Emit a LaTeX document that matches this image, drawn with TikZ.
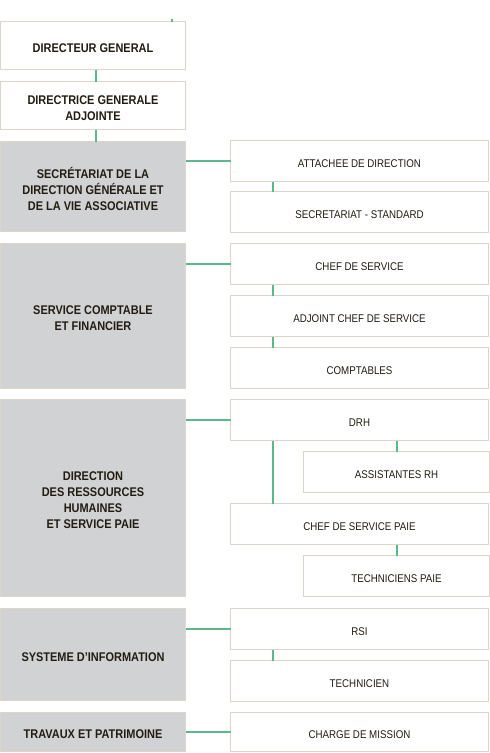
\documentclass[tikz,border=0pt]{standalone}
\usepackage{fontspec}
\setmainfont{Liberation Sans}[FakeStretch=0.87]
\definecolor{bordc}{HTML}{DDD6C8}
\definecolor{grayc}{HTML}{D1D2D4}
\definecolor{greenc}{HTML}{5AB88C}
\definecolor{txtc}{HTML}{231C12}
\tikzset{
  txlab/.style={inner sep=0pt, outer sep=0pt, align=center, text=txtc, yshift=-2.5pt},
  box/.style={draw=bordc, line width=1pt, inner sep=0pt, outer sep=0pt},
  topbox/.style={box, minimum width=185pt,
    label={[txlab, font=\bfseries\fontsize{12.6}{16}\selectfont]center:{#1}}},
  lbox/.style={topbox={#1}, fill=grayc},
  rbox/.style={box, minimum width=258pt, minimum height=41pt,
    label={[txlab, font=\fontsize{11.2}{16}\selectfont]center:{#1}}},
  sbox/.style={box, minimum width=186pt, minimum height=41pt,
    label={[txlab, font=\fontsize{11.2}{16}\selectfont]center:{#1}}},
  link/.style={draw=greenc, line width=2pt}
}
\begin{document}
\begin{tikzpicture}[x=1pt,y=-1pt]
\useasboundingbox[fill=white] (0,0) rectangle (490,753);
% left column
\node[topbox={DIRECTEUR GENERAL}, minimum height=48pt] (dg) at (93,45.5) {};
\node[topbox={DIRECTRICE GENERALE\\ADJOINTE}, minimum height=48pt] (dga) at (93,105.5) {};
\node[lbox={SECRÉTARIAT DE LA\\DIRECTION GÉNÉRALE ET\\DE LA VIE ASSOCIATIVE}, minimum height=90pt] (secr) at (93,186.5) {};
\node[lbox={SERVICE COMPTABLE\\ET FINANCIER}, minimum height=145pt] (compt) at (93,316) {};
\node[lbox={DIRECTION\\DES RESSOURCES\\HUMAINES\\ET SERVICE PAIE}, minimum height=197pt] (drhg) at (93,498) {};
\node[lbox={SYSTEME D’INFORMATION}, minimum height=92pt] (si) at (93,654.5) {};
\node[lbox={TRAVAUX ET PATRIMOINE}, minimum height=39pt] (trav) at (93,732) {};
% right column
\node[rbox={ATTACHEE DE DIRECTION}] (att) at (359.5,161) {};
\node[rbox={SECRETARIAT - STANDARD}] (std) at (359.5,212) {};
\node[rbox={CHEF DE SERVICE}] (chef) at (359.5,264) {};
\node[rbox={ADJOINT CHEF DE SERVICE}] (adj) at (359.5,316) {};
\node[rbox={COMPTABLES}] (cpt) at (359.5,368) {};
\node[rbox={DRH}] (drh) at (359.5,420) {};
\node[sbox={ASSISTANTES RH}] (ass) at (396.5,472) {};
\node[rbox={CHEF DE SERVICE PAIE}] (paie) at (359.5,524) {};
\node[sbox={TECHNICIENS PAIE}] (tech) at (396.5,576) {};
\node[rbox={RSI}] (rsi) at (359.5,629) {};
\node[rbox={TECHNICIEN}] (techn) at (359.5,681) {};
\node[rbox={CHARGE DE MISSION}, minimum height=39pt] (cdm) at (359.5,732) {};
% connectors
\coordinate (tick) at (172,18.5);
\draw[link] (tick) -- (tick |- dg.north);
\draw[link] ([xshift=3pt]dg.south) -- ([xshift=3pt]dga.north);
\draw[link] ([xshift=3pt]dga.south) -- ([xshift=3pt]secr.north);
\draw[link] (att.west -| secr.east) -- (att.west);
\draw[link] ([xshift=42pt]att.south west) -- ([xshift=42pt]std.north west);
\draw[link] (chef.west -| compt.east) -- (chef.west);
\draw[link] ([xshift=42pt]chef.south west) -- ([xshift=42pt]adj.north west);
\draw[link] ([xshift=42pt]adj.south west) -- ([xshift=42pt]cpt.north west);
\draw[link] (drh.west -| drhg.east) -- (drh.west);
\draw[link] ([xshift=42pt]drh.south west) -- ([xshift=42pt]paie.north west);
\draw[link] (ass.north |- drh.south) -- (ass.north);
\draw[link] (tech.north |- paie.south) -- (tech.north);
\draw[link] (rsi.west -| si.east) -- (rsi.west);
\draw[link] ([xshift=42pt]rsi.south west) -- ([xshift=42pt]techn.north west);
\draw[link] (cdm.west -| trav.east) -- (cdm.west);
\end{tikzpicture}
\end{document}
